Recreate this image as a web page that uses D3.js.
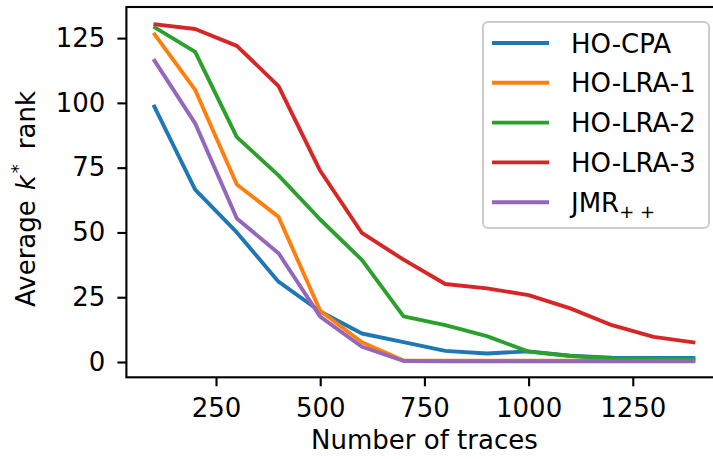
<!DOCTYPE html>
<html>
<head>
<meta charset="utf-8">
<script src="https://cdn.jsdelivr.net/npm/d3@7"></script>
<style>
  html, body { margin: 0; padding: 0; background: #fff; }
  svg { display: block; }
  text { font-family: "DejaVu Sans", sans-serif; fill: #000; }
</style>
</head>
<body>
<svg id="chart" width="713" height="459"></svg>
<script>
const traces = [100, 200, 300, 400, 500, 600, 700, 800, 900, 1000, 1100, 1200, 1300, 1400];
const hoCPA  = [99.2, 66.5, 50, 31, 19.5, 11, 7.7, 4.3, 3.3, 4.1, 2.4, 1.7, 1.6, 1.6];
const hoLRA1 = [127, 105, 68.5, 56, 19.8, 7.6, 0.6, 0.5, 0.5, 0.5, 0.5, 0.5, 0.5, 0.5];
const hoLRA2 = [129.4, 119.7, 86.8, 72, 55, 39.4, 17.6, 14.2, 10, 4, 2.3, 1.4, 1.2, 1.1];
const hoLRA3 = [130.4, 128.5, 122, 106.5, 73.8, 49.8, 39.5, 30.1, 28.4, 25.8, 20.7, 14.2, 9.7, 7.5];
const jmrPP  = [116.9, 92.1, 55.4, 42, 17.5, 5.9, 0.4, 0.3, 0.3, 0.3, 0.3, 0.3, 0.3, 0.3];
const seriesNames = ["HO-CPA", "HO-LRA-1", "HO-LRA-2", "HO-LRA-3", "JMR++"];
const seriesValues = [hoCPA, hoLRA1, hoLRA2, hoLRA3, jmrPP];
const colors = ["#1f77b4", "#ff7f0e", "#2ca02c", "#d62728", "#9467bd"];
const xTicks = [250, 500, 750, 1000, 1250];
const yTicks = [0, 25, 50, 75, 100, 125];

(function () {
const svg = d3.select("#chart");
const pL = 126.4, pR = 722.4, pT = 7, pB = 377.3;
const x = d3.scaleLinear().domain([35, 1465]).range([pL, pR]);
const y = d3.scaleLinear().domain([-5.9, 137]).range([pB, pT]);

// lines
const line = d3.line().x((d, i) => x(traces[i])).y(d => y(d));
seriesValues.forEach((vals, k) => {
  svg.append("path")
    .datum(vals)
    .attr("d", line)
    .attr("fill", "none")
    .attr("stroke", colors[k])
    .attr("stroke-width", 3.9)
    .attr("stroke-linejoin", "round")
    .attr("stroke-linecap", "butt");
});

// spines
svg.append("rect")
  .attr("x", pL).attr("y", pT)
  .attr("width", pR - pL).attr("height", pB - pT)
  .attr("fill", "none").attr("stroke", "#000").attr("stroke-width", 2.1);

// axes
const fmt = d3.format("d");
const xAxis = d3.axisBottom(x).tickValues(xTicks).tickFormat(fmt).tickSize(9).tickPadding(12).tickSizeOuter(0);
const gx = svg.append("g").attr("transform", `translate(0,${pB})`).call(xAxis);
const yAxis = d3.axisLeft(y).tickValues(yTicks).tickFormat(fmt).tickSize(9).tickPadding(12).tickSizeOuter(0);
const gy = svg.append("g").attr("transform", `translate(${pL},0)`).call(yAxis);
[gx, gy].forEach(g => {
  g.select(".domain").remove();
  g.selectAll(".tick line").attr("stroke", "#000").attr("stroke-width", 2.1);
  g.selectAll(".tick text").attr("font-family", "DejaVu Sans").attr("font-size", 26).attr("fill", "#000");
});

// axis labels
svg.append("text")
  .attr("x", (pL + pR) / 2).attr("y", 449)
  .attr("text-anchor", "middle").attr("font-size", 26)
  .text("Number of traces");

const yl = svg.append("text")
  .attr("transform", `translate(35,307) rotate(-90)`)
  .attr("text-anchor", "start").attr("font-size", 26);
yl.append("tspan").text("Average");
yl.append("tspan").attr("dx", 10).attr("font-style", "italic").text("k");
yl.append("tspan").attr("dx", 2).attr("font-size", 18).attr("dy", -11).text("*");
yl.append("tspan").attr("dx", 15).attr("dy", 11).text("rank");

// legend
const lg = svg.append("g");
lg.append("rect")
  .attr("x", 483).attr("y", 22).attr("width", 226).attr("height", 206)
  .attr("rx", 5).attr("ry", 5)
  .attr("fill", "#fff").attr("fill-opacity", 0.8)
  .attr("stroke", "#cccccc").attr("stroke-width", 2);
seriesNames.forEach((name, k) => {
  const cy = 43 + k * 39.8;
  lg.append("line")
    .attr("x1", 492).attr("x2", 549).attr("y1", cy).attr("y2", cy)
    .attr("stroke", colors[k]).attr("stroke-width", 3.9);
  const t = lg.append("text").attr("x", 571).attr("y", cy + 9.5).attr("font-size", 26);
  if (name === "JMR++") {
    t.append("tspan").text("JMR");
    t.append("tspan").attr("font-size", 18).attr("dy", 6).text("+ +");
  } else {
    t.text(name);
  }
});
})();
</script>
</body>
</html>
